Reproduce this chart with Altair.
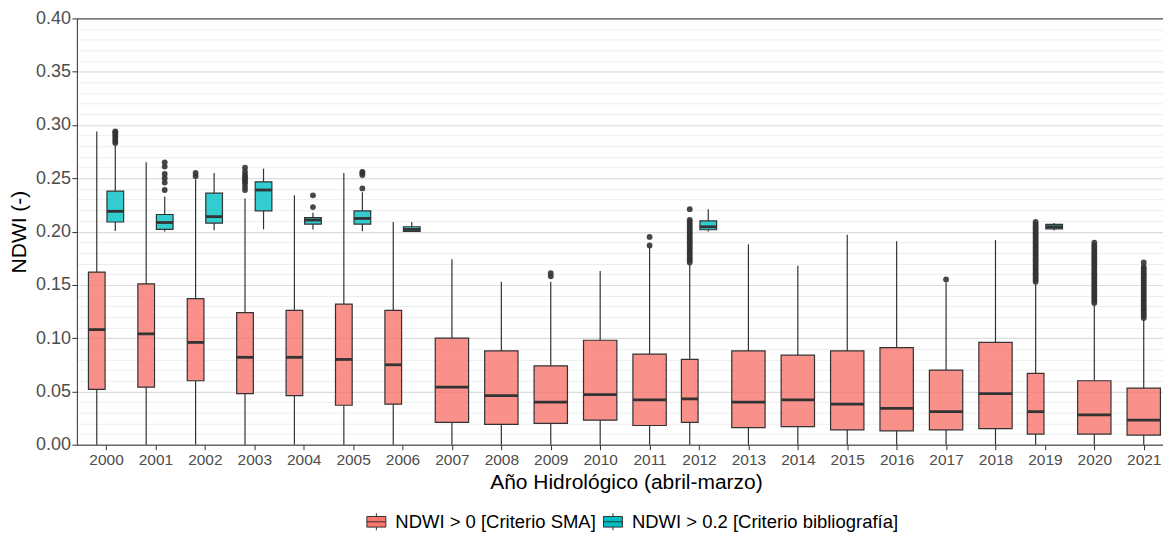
import altair as alt
import pandas as pd

# ---------------- data ----------------
years = list(range(2000, 2022))

GROUP_SMA = "NDWI > 0 [Criterio SMA]"
GROUP_BIB = "NDWI > 0.2 [Criterio bibliografía]"

# NDWI > 0 [Criterio SMA]
sma_low = [0.0] * 22
sma_q1 = [0.052, 0.054, 0.060, 0.048, 0.046, 0.037, 0.038, 0.021, 0.019, 0.020, 0.023,
          0.018, 0.021, 0.016, 0.017, 0.014, 0.013, 0.014, 0.015, 0.010, 0.010, 0.009]
sma_med = [0.108, 0.104, 0.096, 0.082, 0.082, 0.080, 0.075, 0.054, 0.046, 0.040, 0.047,
           0.042, 0.043, 0.040, 0.042, 0.038, 0.034, 0.031, 0.048, 0.031, 0.028, 0.023]
sma_q3 = [0.162, 0.151, 0.137, 0.124, 0.126, 0.132, 0.126, 0.100, 0.088, 0.074, 0.098,
          0.085, 0.080, 0.088, 0.084, 0.088, 0.091, 0.070, 0.096, 0.067, 0.060, 0.053]
sma_high = [0.294, 0.265, 0.249, 0.231, 0.234, 0.255, 0.209, 0.174, 0.153, 0.153, 0.163,
            0.186, 0.169, 0.188, 0.168, 0.197, 0.191, 0.152, 0.192, 0.151, 0.131, 0.117]

sma_out_2002 = [0.252, 0.255]
sma_out_2003 = [0.239, 0.242, 0.245, 0.247, 0.249, 0.251, 0.253, 0.256, 0.260]
sma_out_2009 = [0.158, 0.161]
sma_out_2011 = [0.187, 0.195]
sma_out_2012 = [0.171, 0.173, 0.175, 0.177, 0.179, 0.181, 0.183, 0.185, 0.187, 0.189, 0.191,
                0.193, 0.195, 0.197, 0.199, 0.201, 0.203, 0.205, 0.207, 0.209, 0.211, 0.221]
sma_out_2017 = [0.155]
sma_out_2019 = [0.153, 0.155, 0.157, 0.159, 0.161, 0.163, 0.165, 0.167, 0.169, 0.171, 0.173,
                0.175, 0.177, 0.179, 0.181, 0.183, 0.185, 0.187, 0.189, 0.191, 0.193, 0.195,
                0.197, 0.199, 0.201, 0.203, 0.205, 0.207, 0.209]
sma_out_2020 = [0.133, 0.135, 0.137, 0.139, 0.141, 0.143, 0.145, 0.147, 0.149, 0.151, 0.153,
                0.155, 0.157, 0.159, 0.161, 0.163, 0.165, 0.167, 0.169, 0.171, 0.173, 0.175,
                0.177, 0.179, 0.181, 0.183, 0.185, 0.187, 0.1895]
sma_out_2021 = [0.119, 0.121, 0.123, 0.125, 0.127, 0.129, 0.131, 0.133, 0.135, 0.137, 0.139,
                0.141, 0.143, 0.145, 0.147, 0.149, 0.151, 0.153, 0.155, 0.157, 0.159, 0.161,
                0.163, 0.165, 0.167, 0.171]

# NDWI > 0.2 [Criterio bibliografía]
bib_years = [2000, 2001, 2002, 2003, 2004, 2005, 2006, 2012, 2019]
bib_low = [0.2005, 0.2000, 0.2012, 0.2020, 0.2020, 0.2003, 0.2000, 0.2000, 0.2010]
bib_q1 = [0.2090, 0.2020, 0.2080, 0.2195, 0.2070, 0.2070, 0.2002, 0.2017, 0.2026]
bib_med = [0.2190, 0.2085, 0.2140, 0.2390, 0.2108, 0.2123, 0.2020, 0.2045, 0.2045]
bib_q3 = [0.2380, 0.2160, 0.2360, 0.2467, 0.2130, 0.2195, 0.2045, 0.2100, 0.2067]
bib_high = [0.2810, 0.2330, 0.2550, 0.2590, 0.2176, 0.2370, 0.2090, 0.2210, 0.2080]

bib_out_2000 = [0.283, 0.285, 0.287, 0.289, 0.291, 0.293, 0.294]
bib_out_2001 = [0.239, 0.246, 0.250, 0.254, 0.261, 0.265]
bib_out_2004 = [0.223, 0.234]
bib_out_2005 = [0.2405, 0.253, 0.255, 0.256]

y_ticks = [round(i * 0.01, 2) for i in range(41)]

# ---------------- build tables ----------------
sma_outliers = {2002: sma_out_2002, 2003: sma_out_2003, 2009: sma_out_2009,
                2011: sma_out_2011, 2012: sma_out_2012, 2017: sma_out_2017,
                2019: sma_out_2019, 2020: sma_out_2020, 2021: sma_out_2021}
bib_outliers = {2000: bib_out_2000, 2001: bib_out_2001, 2004: bib_out_2004,
                2005: bib_out_2005}

FULL_W = 0.675      # ggplot width 0.75 shrunk by dodge2 padding 0.1
DODGE = 0.1875


def place(year, group):
    if year in bib_years:
        off = -DODGE if group == GROUP_SMA else DODGE
        hw = FULL_W / 4
    else:
        off = 0.0
        hw = FULL_W / 2
    return year + off, hw


rows, pts = [], []
for i, yr in enumerate(years):
    c, hw = place(yr, GROUP_SMA)
    rows.append(dict(year=yr, grupo=GROUP_SMA, low=sma_low[i], q1=sma_q1[i], med=sma_med[i],
                     q3=sma_q3[i], high=sma_high[i], center=c, left=c - hw, right=c + hw))
    for v in sma_outliers.get(yr, []):
        pts.append(dict(year=yr, grupo=GROUP_SMA, value=v, center=c))
for i, yr in enumerate(bib_years):
    c, hw = place(yr, GROUP_BIB)
    rows.append(dict(year=yr, grupo=GROUP_BIB, low=bib_low[i], q1=bib_q1[i], med=bib_med[i],
                     q3=bib_q3[i], high=bib_high[i], center=c, left=c - hw, right=c + hw))
    for v in bib_outliers.get(yr, []):
        pts.append(dict(year=yr, grupo=GROUP_BIB, value=v, center=c))

boxes = pd.DataFrame(rows)
outl = pd.DataFrame(pts)

# ---------------- chart ----------------
FONT = "Liberation Sans"
LINE = "#333333"
xscale = alt.Scale(domain=[1999.41, 2021.39], nice=False, zero=False)
yscale = alt.Scale(domain=[0, 0.4], nice=False, zero=True)

x_axis = alt.Axis(values=years, format="d", title="Año Hidrológico (abril-marzo)",
                  grid=False, tickSize=5, tickColor=LINE, domainColor=LINE,
                  labelFontSize=15.5, labelColor="#4D4D4D", labelPadding=3,
                  titleFontSize=21, titleColor="black", titlePadding=3, titleX=550,
                  titleFontWeight="normal", labelFont=FONT, titleFont=FONT)

major = "round(datum.value*100) % 5 == 0"
y_axis = alt.Axis(values=y_ticks, title="NDWI (-)",
                  labelExpr=f"{major} ? format(datum.value, '.2f') : ''",
                  tickSize=5, tickColor=LINE, domainColor=LINE,
                  tickOpacity={"condition": {"test": major, "value": 1}, "value": 0},
                  gridColor={"condition": [{"test": "datum.value > 0.399", "value": "#555555"},
                                           {"test": major, "value": "#DCDCDC"}],
                             "value": "#EBEBEB"},
                  gridWidth={"condition": {"test": major, "value": 1.2}, "value": 0.9},
                  labelFontSize=18, labelColor="#4D4D4D", labelPadding=1.5,
                  titleFontSize=21, titleColor="black", titlePadding=6,
                  titleFontWeight="normal", labelFont=FONT, titleFont=FONT)

legend_symbol = "M-1,-0.56H1V0.56H-1Z M-1,0H1 M0,-0.56V-0.9 M0,0.56V0.9"

base = alt.Chart(boxes)

whisk_lo = base.mark_rule(color=LINE, strokeWidth=1.2).encode(
    x=alt.X("center:Q", scale=xscale, axis=x_axis),
    y=alt.Y("low:Q", scale=yscale, axis=y_axis),
    y2="q1:Q")
whisk_hi = base.mark_rule(color=LINE, strokeWidth=1.2).encode(
    x=alt.X("center:Q", scale=xscale, axis=x_axis),
    y=alt.Y("q3:Q", scale=yscale, axis=y_axis),
    y2="high:Q")
box = base.mark_bar(stroke=LINE, strokeWidth=1.2, fillOpacity=0.8).encode(
    x=alt.X("left:Q", scale=xscale, axis=x_axis),
    x2="right:Q",
    y=alt.Y("q1:Q", scale=yscale, axis=y_axis),
    y2="q3:Q",
    color=alt.Color("grupo:N",
                    scale=alt.Scale(domain=[GROUP_SMA, GROUP_BIB], range=["#F8766D", "#00BFC4"]),
                    legend=alt.Legend(title=None, orient="none", direction="horizontal",
                                      legendX=290, legendY=494, padding=0,
                                      symbolType=legend_symbol, symbolSize=361,
                                      symbolStrokeColor=LINE, symbolStrokeWidth=1,
                                      labelFontSize=18.5, labelFont=FONT, labelColor="black",
                                      labelLimit=600, labelOffset=9, columnPadding=5)))
median = base.mark_rule(color=LINE, strokeWidth=2.8).encode(
    x=alt.X("left:Q", scale=xscale, axis=x_axis),
    x2="right:Q",
    y=alt.Y("med:Q", scale=yscale, axis=y_axis))
points = alt.Chart(outl).mark_circle(size=34, color=LINE, opacity=0.9).encode(
    x=alt.X("center:Q", scale=xscale, axis=x_axis),
    y=alt.Y("value:Q", scale=yscale, axis=y_axis))

chart = alt.layer(whisk_lo, whisk_hi, box, median, points).properties(
    width=1088, height=427,
    padding={"left": 0, "top": 1, "right": 0, "bottom": 0},
).configure_view(stroke=None).configure(font=FONT)

chart.save("out.html", embed_options={"renderer": "svg", "actions": False})
